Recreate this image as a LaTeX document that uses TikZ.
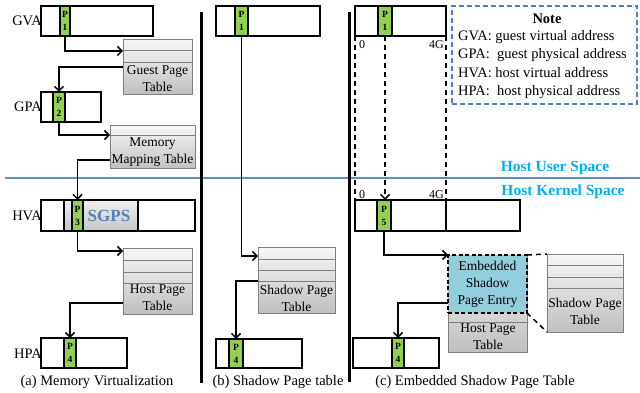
\documentclass[tikz,border=0pt]{standalone}
\usepackage{fontspec}
\setmainfont{Liberation Serif}
\usetikzlibrary{arrows.meta,calc}
\definecolor{pgreen}{RGB}{146,208,80}
\definecolor{lineblue}{RGB}{91,143,200}
\definecolor{notebl}{RGB}{79,129,189}
\definecolor{sgpsc}{RGB}{84,130,190}
\definecolor{cyanT}{RGB}{0,176,240}
\definecolor{espec}{RGB}{146,205,220}
\definecolor{tblbd}{RGB}{128,128,128}
\newcommand{\bx}[7]{\node[#2,minimum width={(#5-#3)*1pt},minimum height={(#6-#4)*1pt}] (#1) at ({(#3+#5)/2},{(#4+#6)/2}) {#7};}
\tikzset{
  addr/.style={draw,line width=1.5pt,fill=white,rectangle,inner sep=0pt,outer sep=0pt},
  pgcell/.style={draw,line width=1.5pt,fill=pgreen,rectangle,inner sep=0pt,outer sep=0pt,align=center,font=\bfseries\fontsize{9.5}{13}\selectfont},
  tbl/.style={draw=tblbd,line width=1pt,rectangle,top color=gray!6,bottom color=gray!50,inner sep=0pt,outer sep=0pt},
  sgbox/.style={draw,line width=1.5pt,rectangle,top color=gray!12,bottom color=gray!45,inner sep=0pt,outer sep=0pt},
  espebox/.style={draw,line width=1.8pt,dash pattern=on 4pt off 2.5pt,fill=espec,rectangle,inner sep=0pt,outer sep=0pt,align=center,font=\fontsize{13.5}{17}\selectfont},
  notebox/.style={draw=notebl,line width=1.4pt,dash pattern=on 5pt off 3pt,rectangle,inner sep=0pt,outer sep=0pt},
  rowline/.style={draw=tblbd,line width=1pt},
  ttext/.style={align=center,inner sep=0pt,font=\fontsize{13.5}{17}\selectfont},
  lbltxt/.style={inner sep=0pt,font=\fontsize{14.5}{16}\selectfont},
  captxt/.style={inner sep=0pt,font=\fontsize{14.5}{16}\selectfont},
  smalltxt/.style={inner sep=0pt,font=\fontsize{12}{14}\selectfont},
  notet/.style={inner sep=0pt,anchor=west,font=\fontsize{14.5}{16}\selectfont},
  spacet/.style={inner sep=0pt,text=cyanT,font=\bfseries\fontsize{15.5}{17}\selectfont},
  sgpst/.style={inner sep=0pt,text=sgpsc,font=\bfseries\fontsize{17}{19}\selectfont},
  arr/.style={line width=1.5pt,-{Straight Barb[length=4.5pt,width=9pt]}},
  dline/.style={line width=1.5pt,dash pattern=on 5pt off 4pt},
  darr/.style={line width=1.5pt,dash pattern=on 5pt off 4pt,-{Straight Barb[length=4.5pt,width=9pt]}},
  sepline/.style={line width=3pt}
}
\begin{document}
\begin{tikzpicture}[x=1pt,y=-1pt]
\useasboundingbox (0,0) rectangle (640,393);
% host space line and separators
\coordinate (bl-l) at (5,178);
\coordinate (bl-r) at (640,178);
\draw[lineblue,line width=1.6pt] (bl-l) -- (bl-r);
\coordinate (s1t) at (201,12); \coordinate (s1b) at (201,383);
\coordinate (s2t) at (349,12); \coordinate (s2b) at (349,382);
\draw[sepline] (s1t) -- (s1b);
\draw[sepline] (s2t) -- (s2b);
\node[spacet] (hus) at (555,168) {Host User Space};
\node[spacet] (hks) at (563,192) {Host Kernel Space};

% ---------- panel (a)
\node[lbltxt,anchor=east] (l-gva) at (42,21) {GVA};
\node[lbltxt,anchor=east] (l-gpa) at (42,107) {GPA};
\node[lbltxt,anchor=east] (l-hva) at (42,216) {HVA};
\node[lbltxt,anchor=east] (l-hpa) at (42,354) {HPA};

\bx{gva-a}{addr}{41}{6}{153}{36}{}
\bx{p1-a}{pgcell}{60}{6}{70}{36}{P\\1}
\bx{gpt}{tbl}{123}{40}{192}{95}{}
\draw[rowline] (gpt.west|-0,51) -- (gpt.east|-0,51);
\draw[rowline] (gpt.west|-0,63) -- (gpt.east|-0,63);
\node[ttext] (gpt-t) at (157.5,79) {Guest Page\\Table};
\draw[arr] (p1-a.south) |- (gpt.west|-0,51);

\bx{gpa-a}{addr}{41}{92}{101}{122}{}
\bx{p2-a}{pgcell}{53}{92}{65}{122}{P\\2}
\draw[arr] (gpt.west|-0,67) -| (p2-a.north);

\bx{mmt}{tbl}{110}{126}{195}{169}{}
\draw[rowline] (mmt.west|-0,136) -- (mmt.east|-0,136);
\node[ttext] (mmt-t) at (152.5,152) {Memory\\Mapping Table};
\draw[arr] (p2-a.south) |- (mmt.west|-0,135);

\bx{hva-a}{addr}{41}{200}{195}{231}{}
\bx{sgps}{sgbox}{64}{200}{138}{231}{}
\bx{p3-a}{pgcell}{72}{200}{83}{231}{P\\3}
\node[sgpst] (sgps-t) at (109,216) {SGPS};
\draw[arr] (mmt.west|-0,160) -| (p3-a.north);

\bx{hpt-a}{tbl}{123}{248}{192}{314}{}
\draw[rowline] (hpt-a.west|-0,260) -- (hpt-a.east|-0,260);
\draw[rowline] (hpt-a.west|-0,272) -- (hpt-a.east|-0,272);
\draw[rowline] (hpt-a.west|-0,283) -- (hpt-a.east|-0,283);
\node[ttext] (hpt-a-t) at (157.5,298) {Host Page\\Table};
\draw[arr] (p3-a.south) |- (hpt-a.west|-0,251);

\bx{hpa-a}{addr}{41}{338}{127}{368}{}
\bx{p4-a}{pgcell}{64}{338}{76}{368}{P\\4}
\draw[arr] (hpt-a.west|-0,303) -| (p4-a.north);
\node[captxt] (cap-a) at (97,382) {(a) Memory Virtualization};

% ---------- panel (b)
\bx{gva-b}{addr}{216}{6}{320}{36}{}
\bx{p1-b}{pgcell}{235}{6}{248}{36}{P\\1}
\bx{spt-b}{tbl}{258}{247}{335}{313}{}
\draw[rowline] (spt-b.west|-0,259) -- (spt-b.east|-0,259);
\draw[rowline] (spt-b.west|-0,270) -- (spt-b.east|-0,270);
\draw[rowline] (spt-b.west|-0,281) -- (spt-b.east|-0,281);
\node[ttext] (spt-b-t) at (296.5,298) {Shadow Page\\Table};
\draw[arr] (p1-b.south) |- (spt-b.west|-0,256);
\bx{hpa-b}{addr}{216}{339}{302}{368}{}
\bx{p4-b}{pgcell}{229}{339}{243}{368}{P\\4}
\draw[arr] (spt-b.west|-0,281) -| (p4-b.north);
\node[captxt] (cap-b) at (278,382) {(b) Shadow Page table};

% ---------- panel (c)
\bx{gva-c}{addr}{355}{6}{446}{36}{}
\bx{p1-c}{pgcell}{378}{6}{392}{36}{P\\1}
\node[smalltxt] (z1) at (362,45) {0};
\node[smalltxt,anchor=east] (g1) at (444,45) {4G};
\bx{hva-c}{addr}{355}{200}{520}{231}{}
\draw[line width=1.5pt] (hva-c.north -| gva-c.east) -- (hva-c.south -| gva-c.east);
\bx{p5}{pgcell}{377}{200}{391}{231}{P\\5}
\node[smalltxt] (z2) at (362,195) {0};
\node[smalltxt,anchor=east] (g2) at (444,195) {4G};
\draw[dline] (gva-c.south west) -- (hva-c.north west);
\draw[dline] (gva-c.south east) -- (hva-c.north -| gva-c.east);
\draw[darr] (p1-c.south) -- (p1-c.south |- p5.north);

\bx{hpt-c}{tbl}{448}{255}{527}{352}{}
\draw[rowline] (hpt-c.west|-0,322) -- (hpt-c.east|-0,322);
\node[ttext] (hpt-c-t) at (488,337) {Host Page\\Table};
\bx{espe}{espebox}{448}{255}{527}{313}{Embedded\\Shadow\\Page Entry}
\draw[arr] (p5.south) |- (espe.north west);

\bx{spt-c}{tbl}{547}{254}{623}{332}{}
\draw[rowline] (spt-c.west|-0,265) -- (spt-c.east|-0,265);
\draw[rowline] (spt-c.west|-0,277) -- (spt-c.east|-0,277);
\draw[rowline] (spt-c.west|-0,288) -- (spt-c.east|-0,288);
\node[ttext] (spt-c-t) at (585,311) {Shadow Page\\Table};
\draw[dline] (espe.north east) -- (spt-c.north west);
\draw[dline] (espe.south east) -- (spt-c.south west);

\bx{hpa-c}{addr}{353}{338}{439}{368}{}
\bx{p4-c}{pgcell}{392}{338}{404}{368}{P\\4}
\draw[arr] (espe.west|-0,303) -| (p4-c.north);
\node[captxt] (cap-c) at (475,382) {(c) Embedded Shadow Page Table};

% ---------- note
\bx{note}{notebox}{452}{6}{637}{104}{}
\node[inner sep=0pt,font=\bfseries\fontsize{14.5}{16}\selectfont] (note-h) at (547,19) {Note};
\node[notet] (n1) at (458,37) {GVA: guest virtual address};
\node[notet] (n2) at (458,55) {GPA:~ guest physical address};
\node[notet] (n3) at (458,73) {HVA: host virtual address};
\node[notet] (n4) at (458,92) {HPA:~ host physical address};
\end{tikzpicture}
\end{document}
